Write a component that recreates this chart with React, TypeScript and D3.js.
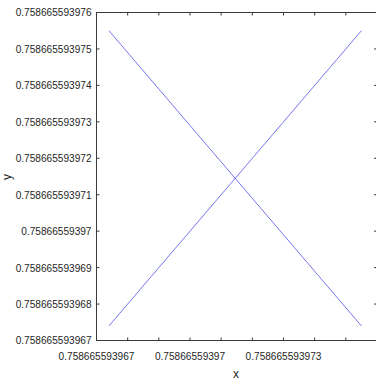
import React from 'react';
import { scaleLinear, line } from 'd3';

// tick values and the labels the plot prints next to them
const tickValues = [
  0.758665593967, 0.758665593968, 0.758665593969, 0.75866559397, 0.758665593971,
  0.758665593972, 0.758665593973, 0.758665593974, 0.758665593975, 0.758665593976,
];
const yTickLabels = [
  '0.758665593967', '0.758665593968', '0.758665593969', '0.75866559397', '0.758665593971',
  '0.758665593972', '0.758665593973', '0.758665593974', '0.758665593975', '0.758665593976',
];
const xTickLabels = ['0.758665593967', '', '', '0.75866559397', '', '', '0.758665593973', '', '', ''];

// the two crossing series
const xValues = [0.7586655939674, 0.7586655939755];
const riseValues = [0.7586655939674, 0.7586655939755];
const fallValues = [0.7586655939755, 0.7586655939674];

const W = 376;
const H = 382;
const margin = { top: 12.5, right: -1, bottom: 41.5, left: 96.5 };
const font = '"Liberation Sans", Arial, sans-serif';
const squeeze = 'scale(0.92, 1)';

const App = () => {
  const innerW = W - margin.left - margin.right;
  const innerH = H - margin.top - margin.bottom;

  const xScale = scaleLinear()
    .domain([tickValues[0], tickValues[tickValues.length - 1]])
    .range([0, innerW]);
  const yScale = scaleLinear()
    .domain([tickValues[0], tickValues[tickValues.length - 1]])
    .range([innerH, 0]);

  const path = (ys: number[]) =>
    line<number>()
      .x((d, i) => xScale(xValues[i]))
      .y(d => yScale(d))(ys) || '';

  const axisColor = '#3a3a3a';
  const tick = 3;

  return (
    <svg width={W} height={H} style={{ position: 'absolute', left: 0, top: 0, background: 'white' }}>
      <g transform={`translate(${margin.left}, ${margin.top})`}>
        {/* box */}
        <line x1={0} x2={innerW} y1={0} y2={0} stroke={axisColor} strokeWidth={1} />
        <line x1={0} x2={innerW} y1={innerH} y2={innerH} stroke={axisColor} strokeWidth={1} />
        <line x1={0} x2={0} y1={0} y2={innerH} stroke={axisColor} strokeWidth={1} />
        <line x1={innerW} x2={innerW} y1={0} y2={innerH} stroke={axisColor} strokeWidth={1} />

        {/* x ticks */}
        {tickValues.map((v, i) => (
          <g key={'x' + i} transform={`translate(${xScale(v)}, 0)`}>
            <line y1={0} y2={tick} stroke={axisColor} strokeWidth={1} />
            <line y1={innerH} y2={innerH - tick} stroke={axisColor} strokeWidth={1} />
            <g transform={`translate(0, ${innerH + 19}) ${squeeze}`}>
              <text textAnchor="middle" fontSize={11} fontFamily={font} fill="#262626">
                {xTickLabels[i]}
              </text>
            </g>
          </g>
        ))}

        {/* y ticks */}
        {tickValues.map((v, i) => (
          <g key={'y' + i} transform={`translate(0, ${yScale(v)})`}>
            <line x1={0} x2={tick} stroke={axisColor} strokeWidth={1} />
            <line x1={innerW} x2={innerW - tick} stroke={axisColor} strokeWidth={1} />
            <g transform={`translate(-5, 0) ${squeeze}`}>
              <text dy="0.36em" textAnchor="end" fontSize={11} fontFamily={font} fill="#262626">
                {yTickLabels[i]}
              </text>
            </g>
          </g>
        ))}

        <path d={path(riseValues)} fill="none" stroke="#3b3be8" strokeWidth={0.7} />
        <path d={path(fallValues)} fill="none" stroke="#3b3be8" strokeWidth={0.7} />
      </g>

      <text x={236} y={378} textAnchor="middle" fontSize={12} fontFamily={font} fill="#262626">x</text>
      <text transform="translate(11, 177) rotate(-90)" textAnchor="middle" fontSize={12} fontFamily={font} fill="#262626">y</text>
    </svg>
  );
};

export default App;
